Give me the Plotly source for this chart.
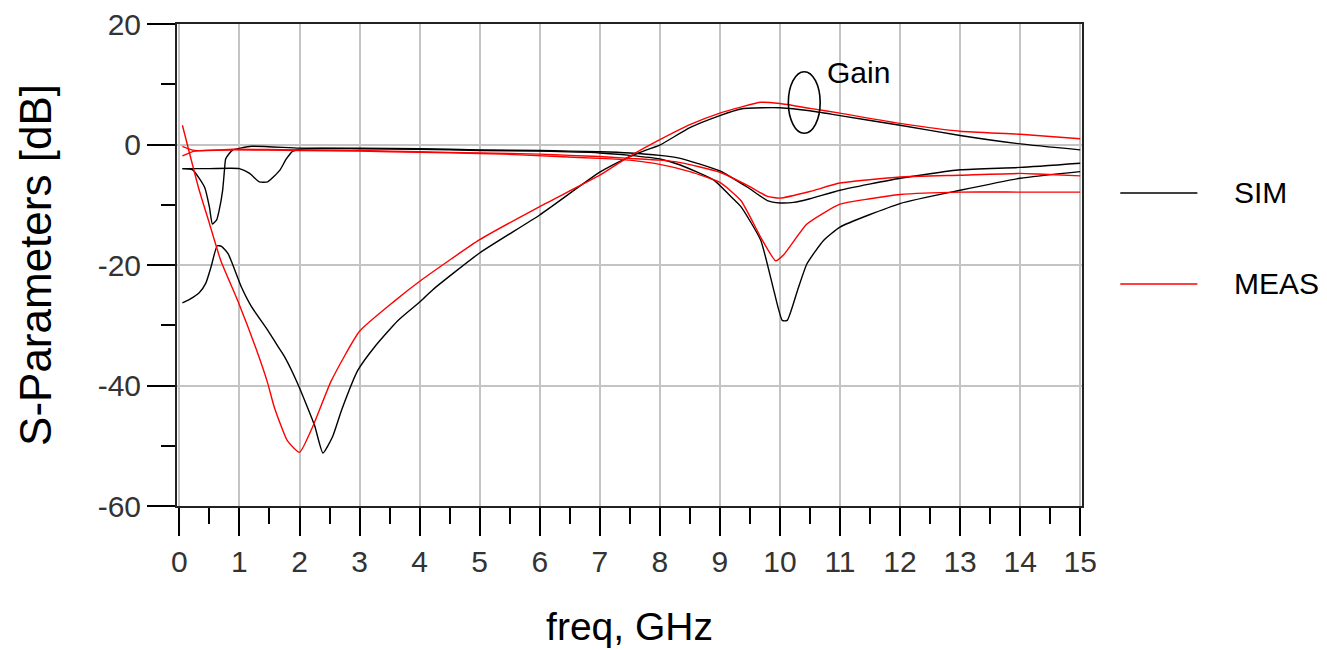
import plotly.graph_objects as go

FONT = "Liberation Sans, Arial, sans-serif"

# ---------------- data ----------------
sim_s21_f = [0.05, 0.17, 0.33, 0.44, 0.53, 0.63, 0.7, 0.81, 1.03, 1.2, 1.47, 1.64, 1.75, 1.97,
             2.25, 2.39, 2.55, 2.7, 2.97, 3.25, 3.64, 4.03, 4.22, 5.0, 6.0, 7.0, 7.44, 7.78, 8.0,
             8.5, 9.0, 9.35, 9.7, 10.0, 10.5, 11, 12, 13, 14, 15]
sim_s21_v = [-26.3, -25.7, -24.6, -23.0, -20.2, -16.8, -16.9, -18.1, -23.6, -26.9, -30.8, -33.5,
             -35.2, -39.7, -46.6, -51.2, -48.5, -44.1, -37.5, -33.6, -29.2, -25.9, -24.1, -18.0,
             -11.7, -4.6, -2.3, -0.9, -0.1, 2.8, 4.8, 5.9, 6.1, 6.1, 5.6, 4.8, 3.2, 1.5, 0.1, -0.9]

meas_s21_f = [0.05, 0.17, 0.33, 0.5, 0.69, 0.97, 1.28, 1.47, 1.58, 1.8, 2.0, 2.23, 2.53, 3.0,
              3.58, 4.03, 5.0, 6.0, 7.0, 7.44, 8.0, 8.5, 9.0, 9.35, 9.68, 10.0, 10.5, 11,
              12, 13, 14, 15]
meas_s21_v = [3.2, -1.5, -7.6, -13.1, -19.3, -25.9, -34.0, -39.6, -43.6, -49.2, -51.1, -46.6,
              -39.2, -31.0, -26.0, -22.5, -15.8, -10.3, -5.1, -2.3, 0.8, 3.3, 5.2, 6.2,
              7.0, 6.8, 6.0, 5.2, 3.5, 2.2, 1.7, 0.95]

sim_s11_f = [0.05, 0.22, 0.42, 0.5, 0.55, 0.62, 0.66, 0.72, 0.75, 0.77, 0.83, 0.89, 1.2, 2.0,
             3.0, 4.0, 5.0, 6.0, 6.5, 7.0, 7.5, 8.0, 8.34, 9.0, 9.46, 9.79, 10.0, 10.23, 10.5,
             11, 12, 13, 14, 15]
sim_s11_v = [-4.0, -4.2, -7.1, -10.4, -13.2, -12.5, -11.0, -7.6, -4.3, -2.4, -1.5, -0.9, -0.3,
             -0.6, -0.6, -0.7, -0.9, -1.0, -1.1, -1.2, -1.4, -1.8, -2.3, -4.4, -7.1, -9.3, -9.7,
             -9.6, -9.0, -7.6, -5.6, -4.2, -3.8, -3.1]

sim_s22_f = [0.05, 0.5, 1.0, 1.17, 1.33, 1.47, 1.67, 1.78, 1.89, 2.1, 3.0, 4.0, 5.0, 6.0, 7.0,
             7.5, 8.0, 8.34, 8.9, 9.17, 9.35, 9.68, 9.9, 10.04, 10.12, 10.29, 10.45, 10.73, 11,
             12, 13, 14, 15]
sim_s22_v = [-4.0, -4.0, -4.0, -4.8, -6.2, -6.2, -4.3, -2.4, -1.1, -0.7, -0.7, -0.8, -1.0, -1.1,
             -1.4, -1.8, -2.4, -3.4, -5.9, -8.5, -10.3, -15.9, -24.3, -29.2, -29.2, -24.3, -19.8,
             -15.9, -13.7, -9.8, -7.6, -5.6, -4.5]

meas_s11_f = [0.05, 0.25, 0.9, 2, 3, 4, 5, 6, 6.5, 7, 7.5, 8, 8.34, 9, 9.46, 9.79, 10, 10.5,
              11, 12, 13, 14, 14.3, 15]
meas_s11_v = [-0.3, -1.0, -0.8, -0.9, -1.0, -1.2, -1.4, -1.6, -1.8, -2.0, -2.3, -2.6, -3.0,
              -4.6, -6.8, -8.6, -8.9, -7.8, -6.4, -5.4, -5.1, -4.8, -4.9, -5.2]

meas_s22_f = [0.05, 0.25, 0.9, 2, 3, 4, 5, 5.4, 6.3, 7, 7.5, 8, 8.5, 9, 9.35, 9.68, 9.93, 10.07,
              10.45, 11, 11.5, 12, 13, 14, 15]
meas_s22_v = [-1.9, -1.1, -0.9, -1.0, -1.1, -1.3, -1.5, -1.6, -2.0, -2.3, -2.6, -3.3, -4.5, -6.3,
              -9.3, -15.4, -19.3, -18.2, -13.2, -9.9, -9.0, -8.3, -7.9, -7.9, -7.9]

x_ticks = list(range(0, 16))
y_ticks = [20, 0, -20, -40, -60]

legend_names = ["SIM", "MEAS"]
legend_colors = ["#000000", "#ff0000"]

# ---------------- figure ----------------
fig = go.Figure()

series = [
    (sim_s21_f, sim_s21_v, "SIM", "#000000"),
    (sim_s11_f, sim_s11_v, "SIM", "#000000"),
    (sim_s22_f, sim_s22_v, "SIM", "#000000"),
    (meas_s21_f, meas_s21_v, "MEAS", "#ff0000"),
    (meas_s11_f, meas_s11_v, "MEAS", "#ff0000"),
    (meas_s22_f, meas_s22_v, "MEAS", "#ff0000"),
]
for f, v, name, col in series:
    fig.add_trace(go.Scatter(x=f, y=v, mode="lines", name=name,
                             line=dict(color=col, width=1.4, shape="spline", smoothing=0.5),
                             showlegend=False, hoverinfo="skip"))

# Gain ellipse marker and label
fig.add_shape(type="circle", xref="x", yref="y", x0=10.14, x1=10.67, y0=1.86, y1=12.08,
              line=dict(color="black", width=1.6))
fig.add_annotation(x=10.75, y=12.0, xref="x", yref="y", text="Gain", showarrow=False,
                   xanchor="left", yanchor="middle", font=dict(family=FONT, size=30, color="black"))

# manual legend (long line samples, as in the reference)
leg_y = [0.6494, 0.4606]
for name, col, yy in zip(legend_names, legend_colors, leg_y):
    fig.add_shape(type="line", xref="paper", yref="paper", x0=1.0423, x1=1.1275, y0=yy, y1=yy,
                  line=dict(color=col, width=1.6))
    fig.add_annotation(x=1.1661, y=yy, xref="paper", yref="paper", text=name, showarrow=False,
                       xanchor="left", yanchor="middle",
                       font=dict(family=FONT, size=30, color="black"))

axis_common = dict(
    showline=True, linecolor="#222222", linewidth=2, mirror=True,
    ticks="outside", ticklen=28, tickwidth=2, tickcolor="black",
    showgrid=True, gridcolor="#c4c4c4", gridwidth=1.6,
    zeroline=False, ticklabeloverflow="allow",
    tickfont=dict(family=FONT, size=30, color="#333333"),
)

fig.update_xaxes(
    range=[-0.04, 15.03], tickmode="array", tickvals=x_ticks,
    ticktext=[str(t) for t in x_ticks],
    minor=dict(dtick=0.5, ticks="outside", ticklen=16, tickwidth=2, tickcolor="black", showgrid=False),
    title=dict(text="freq, GHz", font=dict(family=FONT, size=39, color="black"), standoff=36),
    **axis_common,
)
fig.update_yaxes(
    range=[-60, 20], tickmode="array", tickvals=y_ticks,
    ticktext=[str(t) for t in y_ticks],
    minor=dict(dtick=10, ticks="outside", ticklen=14, tickwidth=2, tickcolor="black", showgrid=False),
    title=dict(text="S-Parameters [dB]", font=dict(family=FONT, size=44, color="black"), standoff=32),
    **axis_common,
)

# page has an 8 px body margin, so the figure is shifted/shrunk accordingly
fig.update_layout(
    width=1319, height=642,
    margin=dict(l=169, r=245, t=16, b=144, autoexpand=False),
    paper_bgcolor="white", plot_bgcolor="white",
    showlegend=False,
)

fig.write_html("out.html")
